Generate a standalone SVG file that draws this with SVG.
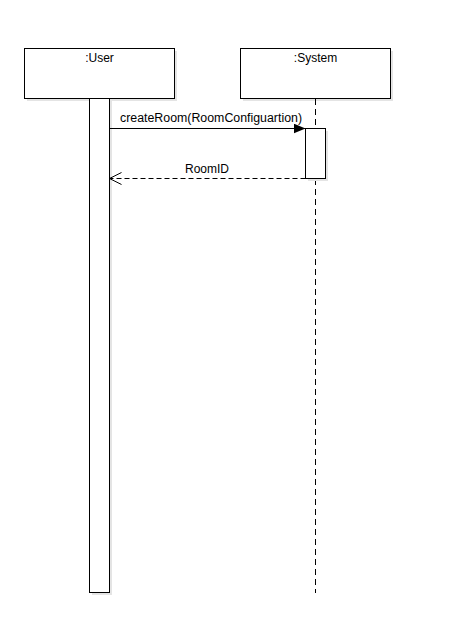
<svg xmlns="http://www.w3.org/2000/svg" width="462" height="641" viewBox="0 0 462 641">
<defs>
<style>
.box{fill:#fff;stroke:#000;stroke-width:1}
.shadow{fill:#e4e4e4;stroke:none}
.lbl{font-family:"Liberation Sans",Arial,sans-serif;font-size:12px;fill:#000}
.life{stroke:#000;stroke-width:1;stroke-dasharray:6,4;fill:none}
.msg{stroke:#000;stroke-width:1;fill:none}
.ret{stroke:#000;stroke-width:1;stroke-dasharray:5,3;fill:none}
</style>
<marker id="filled" viewBox="0 0 12 10" refX="12" refY="5" markerWidth="12" markerHeight="10" markerUnits="userSpaceOnUse" orient="auto">
<path d="M0,0 L12,5 L0,10 Z" fill="#000"/>
</marker>
<marker id="open" viewBox="0 0 14 14" refX="13" refY="7" markerWidth="14" markerHeight="14" markerUnits="userSpaceOnUse" orient="auto">
<path d="M1,1 L13,7 L1,13" fill="none" stroke="#000" stroke-width="1"/>
</marker>
</defs>
<rect width="462" height="641" fill="#fff"/>
<g id="user">
<rect class="shadow" x="27" y="51" width="150" height="50"/>
<rect class="box" x="24.5" y="48.5" width="150" height="50"/>
<text class="lbl" x="99.5" y="62" text-anchor="middle">:User</text>
<rect class="shadow" x="92" y="101" width="20" height="494"/>
<rect class="box" x="89.5" y="98.5" width="20" height="494"/>
</g>
<g id="system">
<rect class="shadow" x="243" y="51" width="150" height="50"/>
<rect class="box" x="240.5" y="48.5" width="150" height="50"/>
<text class="lbl" x="315.5" y="62" text-anchor="middle">:System</text>
<line class="life" x1="315.5" y1="99" x2="315.5" y2="593"/>
<rect class="shadow" x="308" y="131" width="20" height="50"/>
<rect class="box" x="305.5" y="128.5" width="20" height="50"/>
</g>
<g id="connectors">
<line class="msg" x1="109.5" y1="128.5" x2="305.5" y2="128.5" marker-end="url(#filled)"/>
<text class="lbl" x="120" y="122" textLength="182" lengthAdjust="spacingAndGlyphs">createRoom(RoomConfiguartion)</text>
<line class="ret" x1="305.5" y1="178.5" x2="109.5" y2="178.5" marker-end="url(#open)"/>
<text class="lbl" x="185" y="173">RoomID</text>
</g>
</svg>
